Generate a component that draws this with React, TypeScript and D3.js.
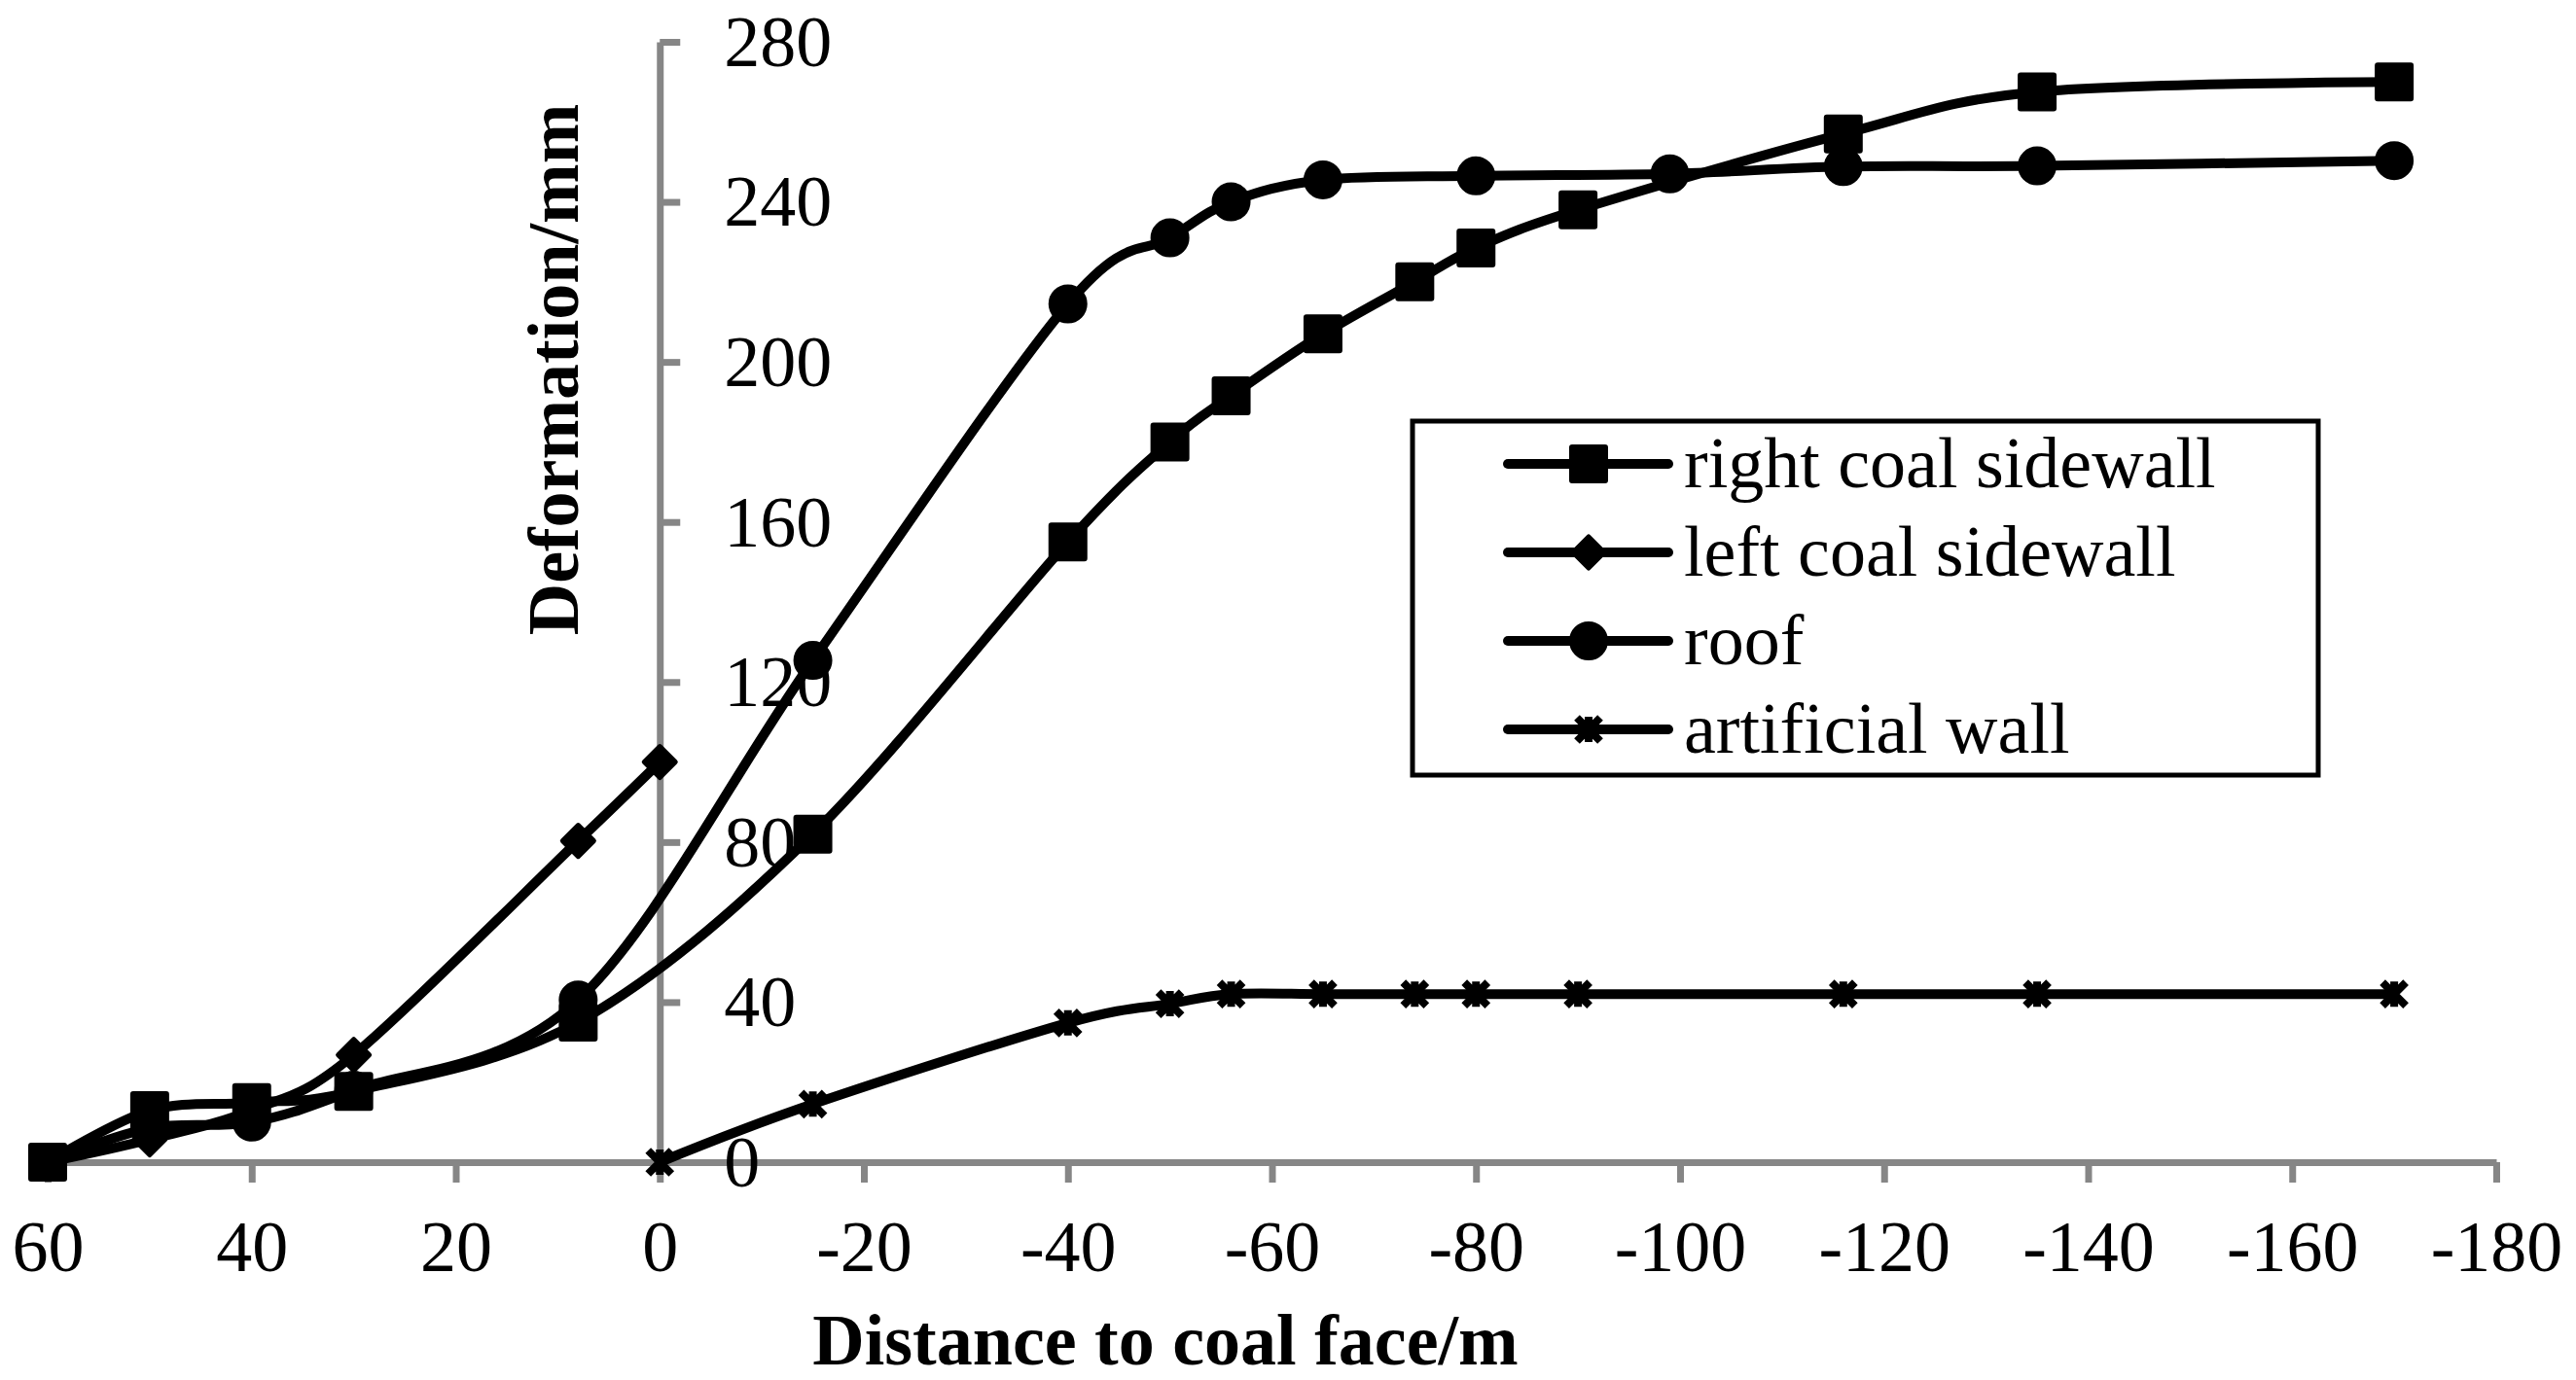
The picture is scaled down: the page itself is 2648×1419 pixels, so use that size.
import { useEffect, useRef } from "react"
import * as d3 from "d3"

// Distance to coal face (m) and deformation (mm) per measuring line
const rightX = [60, 50, 40, 30, 8, -15, -40, -50, -56, -65, -74, -80, -90, -116, -135, -170]
const rightY = [0, 12.9, 14.9, 17.7, 35, 82, 155, 180, 191.5, 207, 220, 228.5, 238, 257, 267.5, 270]
const leftX = [60, 50, 40, 30, 8, 0]
const leftY = [0, 5.7, 13, 26.8, 80.3, 100]
const roofX = [60, 50, 40, 30, 8, -15, -40, -50, -56, -65, -80, -99, -116, -135, -170]
const roofY = [0, 8.5, 10, 18, 40.5, 125.4, 214.5, 231, 240, 245.5, 246.5, 247, 248.8, 249, 250.3]
const wallX = [0, -15, -40, -50, -56, -65, -74, -80, -90, -116, -135, -170]
const wallY = [0, 14.5, 34.8, 39.6, 42, 42, 42, 42, 42, 42, 42, 42]

const xTicks = [60, 40, 20, 0, -20, -40, -60, -80, -100, -120, -140, -160, -180]
const yTicks = [0, 40, 80, 120, 160, 200, 240, 280]

const seriesNames = ["right coal sidewall", "left coal sidewall", "roof", "artificial wall"]
const markerTypes = ["square", "diamond", "circle", "star"]

const FONT = "'Liberation Serif', 'Times New Roman', serif"
const AXIS_GRAY = "#868686"

function drawMarker(g: d3.Selection<SVGGElement, unknown, null, undefined>, type: string, cx: number, cy: number) {
  if (type === "square") {
    g.append("rect")
      .attr("x", cx - 17)
      .attr("y", cy - 17)
      .attr("width", 34)
      .attr("height", 34)
      .attr("fill", "#000")
      .attr("stroke", "#000")
      .attr("stroke-width", 6)
      .attr("stroke-linejoin", "round")
  } else if (type === "diamond") {
    g.append("path")
      .attr("d", `M${cx},${cy - 16}L${cx + 16},${cy}L${cx},${cy + 16}L${cx - 16},${cy}Z`)
      .attr("fill", "#000")
      .attr("stroke", "#000")
      .attr("stroke-width", 5)
      .attr("stroke-linejoin", "round")
  } else if (type === "circle") {
    g.append("circle")
      .attr("cx", cx)
      .attr("cy", cy)
      .attr("r", 17)
      .attr("fill", "#000")
      .attr("stroke", "#000")
      .attr("stroke-width", 6)
  } else {
    g.append("path")
      .attr("d", `M${cx - 12},${cy - 12}L${cx + 12},${cy + 12}M${cx + 12},${cy - 12}L${cx - 12},${cy + 12}M${cx},${cy - 13}L${cx},${cy + 13}`)
      .attr("fill", "none")
      .attr("stroke", "#000")
      .attr("stroke-width", 8)
  }
}

export default function App() {
  const svgRef = useRef<SVGSVGElement>(null)

  useEffect(() => {
    if (!svgRef.current) return
    const svg = d3.select(svgRef.current)
    svg.selectAll("*").remove()

    const x = d3.scaleLinear().domain([60, -180]).range([49, 2566])
    const y = d3.scaleLinear().domain([0, 280]).range([1195, 43])

    // x axis
    const gx = svg
      .append("g")
      .attr("transform", `translate(0,${y(0)})`)
      .call(d3.axisBottom(x).tickValues(xTicks).tickSize(21).tickSizeOuter(0).tickFormat((d) => `${d}`))
    gx.select(".domain").attr("stroke", AXIS_GRAY).attr("stroke-width", 7)
    gx.selectAll(".tick line").attr("stroke", AXIS_GRAY).attr("stroke-width", 7)
    gx.selectAll(".tick text")
      .attr("y", 112)
      .attr("dy", 0)
      .attr("fill", "#000")

    // y axis, crossing at x = 0
    const gy = svg
      .append("g")
      .attr("transform", `translate(${x(0)},0)`)
      .call(d3.axisRight(y).tickValues(yTicks).tickSize(21).tickSizeOuter(0))
    gy.select(".domain").attr("stroke", AXIS_GRAY).attr("stroke-width", 7)
    gy.selectAll(".tick line").attr("stroke", AXIS_GRAY).attr("stroke-width", 7)
    gy.selectAll(".tick text")
      .attr("x", 66)
      .attr("dy", "0.33em")
      .attr("text-anchor", "start")
      .attr("fill", "#000")
    svg.selectAll(".tick text").attr("font-family", FONT).attr("font-size", 74)

    // axis titles
    svg
      .append("text")
      .attr("x", 1198)
      .attr("y", 1403)
      .attr("text-anchor", "middle")
      .attr("font-family", FONT)
      .attr("font-size", 74)
      .attr("font-weight", "bold")
      .text("Distance to coal face/m")

    svg
      .append("text")
      .attr("transform", `translate(594,380) rotate(-90)`)
      .attr("text-anchor", "middle")
      .attr("font-family", FONT)
      .attr("font-size", 74)
      .attr("font-weight", "bold")
      .text("Deformation/mm")

    // series
    const series = [
      { xs: rightX, ys: rightY },
      { xs: leftX, ys: leftY },
      { xs: roofX, ys: roofY },
      { xs: wallX, ys: wallY },
    ]
    const line = d3
      .line<[number, number]>()
      .x((d) => x(d[0]))
      .y((d) => y(d[1]))
      .curve(d3.curveCatmullRom.alpha(0))

    series.forEach((s, i) => {
      const pts: [number, number][] = s.xs.map((v, j) => [v, s.ys[j]])
      const g = svg.append("g")
      g.append("path")
        .attr("d", line(pts) || "")
        .attr("fill", "none")
        .attr("stroke", "#000")
        .attr("stroke-width", 10)
        .attr("stroke-linecap", "round")
        .attr("stroke-linejoin", "round")
      pts.forEach((p) => drawMarker(g, markerTypes[i], x(p[0]), y(p[1])))
    })

    // legend
    const lg = svg.append("g")
    lg.append("rect")
      .attr("x", 1452)
      .attr("y", 433)
      .attr("width", 931)
      .attr("height", 364)
      .attr("fill", "#fff")
      .attr("stroke", "#000")
      .attr("stroke-width", 5)
    seriesNames.forEach((name, i) => {
      const ry = 477 + i * 91
      const row = lg.append("g")
      row.append("line")
        .attr("x1", 1550)
        .attr("x2", 1715)
        .attr("y1", ry)
        .attr("y2", ry)
        .attr("stroke", "#000")
        .attr("stroke-width", 10)
        .attr("stroke-linecap", "round")
      drawMarker(row, markerTypes[i], 1633, ry)
      row.append("text")
        .attr("x", 1731)
        .attr("y", ry + 24)
        .attr("font-family", FONT)
        .attr("font-size", 74)
        .attr("fill", "#000")
        .text(name)
    })
  }, [])

  return (
    <>
      <style>{`body{margin:0;background:#fff}`}</style>
      <svg ref={svgRef} width={2648} height={1419} style={{ display: "block", background: "#fff" }} />
    </>
  )
}
